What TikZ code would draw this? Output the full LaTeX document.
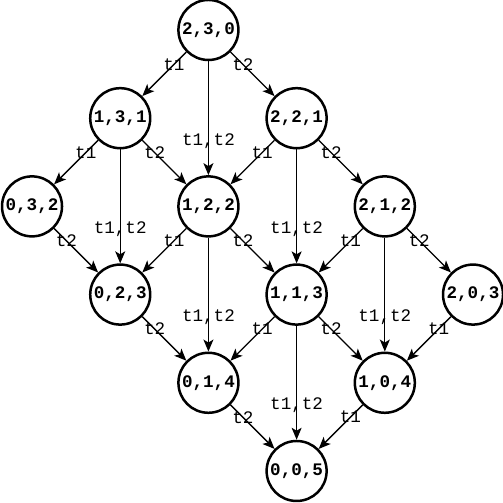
\documentclass[tikz,border=0pt]{standalone}
\usepackage{fontspec}
\setmonofont{Liberation Mono}
\usetikzlibrary{arrows.meta}
\begin{document}
\begin{tikzpicture}[
        x=44.1pt, y=-44.1pt,
        statept/.style={circle, draw=black, line width=1.25pt, minimum size=30pt, inner sep=0pt,
            font=\ttfamily\bfseries\fontsize{8.8}{10}\selectfont},
        trans/.style={->, line width=0.65pt},
        tlabel/.style={inner sep=0pt, font=\ttfamily\fontsize{8.8}{10}\selectfont},
        diaglbl/.style={tlabel, pos=0.28},
        vertlbl/.style={tlabel, pos=0.70},
        >={Stealth[length=6pt, width=5pt, inset=1.5pt]}
    ]
        \useasboundingbox (-0.363,-0.340) rectangle (5.340,5.363);

        % States, one row per level
        \node[statept] (n230) at (2,0) {2,3,0};
        \node[statept] (n131) at (1,1) {1,3,1};
        \node[statept] (n221) at (3,1) {2,2,1};
        \node[statept] (n032) at (0,2) {0,3,2};
        \node[statept] (n122) at (2,2) {1,2,2};
        \node[statept] (n212) at (4,2) {2,1,2};
        \node[statept] (n023) at (1,3) {0,2,3};
        \node[statept] (n113) at (3,3) {1,1,3};
        \node[statept] (n203) at (5,3) {2,0,3};
        \node[statept] (n014) at (2,4) {0,1,4};
        \node[statept] (n104) at (4,4) {1,0,4};
        \node[statept] (n005) at (3,5) {0,0,5};

        % Transitions from level 0
        \draw[trans] (n230) -- node[diaglbl] {t1} (n131);
        \draw[trans] (n230) -- node[diaglbl] {t2} (n221);
        \draw[trans] (n230) -- node[vertlbl] {t1,t2} (n122);

        % Transitions from level 1
        \draw[trans] (n131) -- node[diaglbl] {t1} (n032);
        \draw[trans] (n131) -- node[diaglbl] {t2} (n122);
        \draw[trans] (n131) -- node[vertlbl] {t1,t2} (n023);
        \draw[trans] (n221) -- node[diaglbl] {t1} (n122);
        \draw[trans] (n221) -- node[diaglbl] {t2} (n212);
        \draw[trans] (n221) -- node[vertlbl] {t1,t2} (n113);

        % Transitions from level 2
        \draw[trans] (n032) -- node[diaglbl] {t2} (n023);
        \draw[trans] (n122) -- node[diaglbl] {t1} (n023);
        \draw[trans] (n122) -- node[diaglbl] {t2} (n113);
        \draw[trans] (n122) -- node[vertlbl] {t1,t2} (n014);
        \draw[trans] (n212) -- node[diaglbl] {t1} (n113);
        \draw[trans] (n212) -- node[diaglbl] {t2} (n203);
        \draw[trans] (n212) -- node[vertlbl] {t1,t2} (n104);

        % Transitions from level 3
        \draw[trans] (n023) -- node[diaglbl] {t2} (n014);
        \draw[trans] (n113) -- node[diaglbl] {t1} (n014);
        \draw[trans] (n113) -- node[diaglbl] {t2} (n104);
        \draw[trans] (n113) -- node[vertlbl] {t1,t2} (n005);
        \draw[trans] (n203) -- node[diaglbl] {t1} (n104);

        % Transitions from level 4
        \draw[trans] (n014) -- node[diaglbl] {t2} (n005);
        \draw[trans] (n104) -- node[diaglbl] {t1} (n005);
    \end{tikzpicture}
\end{document}
